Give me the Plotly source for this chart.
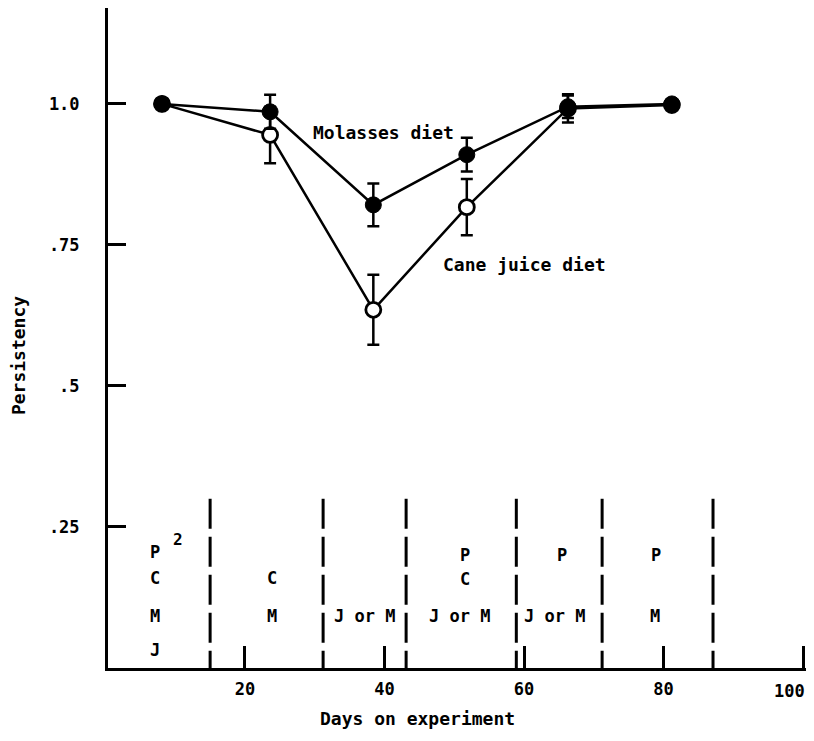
import plotly.graph_objects as go

# ---- data ----
days = [8.1, 23.6, 38.4, 51.8, 66.3, 81.2]
molasses = [1.0, 0.986, 0.821, 0.910, 0.995, 1.0]
molasses_err = [0, 0.030, 0.038, 0.030, 0.020, 0]
cane = [1.0, 0.945, 0.635, 0.817, 0.992, 0.998]
cane_err = [0, 0.050, 0.062, 0.050, 0.025, 0]

period_bounds = [15.0, 31.2, 43.1, 58.9, 71.2, 87.1]
bound_top = 0.30

label_text = ["P", "C", "M", "J", "C", "M", "J or M", "P", "C", "J or M",
              "P", "J or M", "P", "M"]
label_x = [7.1, 7.1, 7.1, 7.1, 23.9, 23.9, 37.2, 51.5, 51.5, 50.8,
           65.4, 64.4, 78.9, 78.8]
label_y = [0.206, 0.160, 0.092, 0.032, 0.160, 0.092, 0.092, 0.200, 0.158, 0.092,
           0.200, 0.092, 0.200, 0.092]
note_text = "2"
note_x, note_y = 10.4, 0.227

x_ticks = [20, 40, 60, 80, 100]
x_ticktext = ["20", "40", "60", "80", ""]
last_tick_text = "100"          # drawn a little left of its tick, as in the reference
last_tick_x = 98.0
y_ticks = [0.25, 0.5, 0.75, 1.0]
y_ticktext = [".25", ".5", ".75", "1.0"]

series_labels = ["Molasses diet", "Cane juice diet"]
series_label_x = [39.8, 60.1]
series_label_y = [0.950, 0.715]

FONT = "DejaVu Sans Mono"

fig = go.Figure()

# period boundary dashed lines
for b in period_bounds:
    fig.add_trace(go.Scatter(
        x=[b, b], y=[bound_top, 0], mode="lines",
        line=dict(color="black", width=3, dash="30px,8px"),
        hoverinfo="skip", showlegend=False))

fig.add_trace(go.Scatter(
    x=days, y=cane, mode="lines+markers", name="Cane juice diet",
    line=dict(color="black", width=2.5),
    marker=dict(size=15, color="white", line=dict(color="black", width=2.8)),
    error_y=dict(type="data", array=cane_err, visible=True,
                 color="black", thickness=2.5, width=6),
    showlegend=False))

fig.add_trace(go.Scatter(
    x=days, y=molasses, mode="lines+markers", name="Molasses diet",
    line=dict(color="black", width=2.5),
    marker=dict(size=16, color="black", line=dict(color="black", width=1)),
    error_y=dict(type="data", array=molasses_err, visible=True,
                 color="black", thickness=2.5, width=6),
    showlegend=False))

annotations = []
for t, x, y in zip(label_text, label_x, label_y):
    annotations.append(dict(x=x, y=y, xref="x", yref="y", text=t, showarrow=False,
                            font=dict(family=FONT, size=17, color="black", weight="bold")))
annotations.append(dict(x=note_x, y=note_y, xref="x", yref="y", text=note_text,
                        showarrow=False,
                        font=dict(family=FONT, size=16, color="black", weight="bold")))
for t, x, y in zip(series_labels, series_label_x, series_label_y):
    annotations.append(dict(x=x, y=y, xref="x", yref="y", text=t, showarrow=False,
                            font=dict(family=FONT, size=18, color="black", weight="bold")))

annotations.append(dict(x=last_tick_x, y=0, xref="x", yref="y",
                        xanchor="center", yanchor="top", yshift=-11,
                        text=last_tick_text, showarrow=False,
                        font=dict(family=FONT, size=17, color="black", weight="bold")))

annotations.append(dict(x=-0.129, y=0.474, xref="paper", yref="paper",
                        xanchor="center", yanchor="middle",
                        text="Persistency", textangle=-90, showarrow=False,
                        font=dict(family=FONT, size=18, color="black", weight="bold")))
annotations.append(dict(x=0.444, y=-0.077, xref="paper", yref="paper",
                        xanchor="center", yanchor="middle",
                        text="Days on experiment", showarrow=False,
                        font=dict(family=FONT, size=18, color="black", weight="bold")))

# page has an 8px body margin: size the figure so the plot lands where the reference has it
fig.update_layout(
    width=806, height=725,
    margin=dict(l=100, r=8, t=0, b=65),
    paper_bgcolor="white", plot_bgcolor="white",
    annotations=annotations,
    xaxis=dict(range=[0.36, 100.43], showline=True, linecolor="black", linewidth=3,
               ticks="inside", ticklen=22, tickwidth=2.5, tickcolor="black",
               tickvals=x_ticks, ticktext=x_ticktext, showgrid=False, zeroline=False,
               ticklabelstandoff=4,
               tickfont=dict(family=FONT, size=17, color="black", weight="bold")),
    yaxis=dict(range=[0, 1.17], showline=True, linecolor="black", linewidth=3,
               ticks="inside", ticklen=18, tickwidth=2.5, tickcolor="black",
               tickvals=y_ticks, ticktext=y_ticktext, showgrid=False, zeroline=False,
               ticklabelstandoff=22,
               tickfont=dict(family=FONT, size=17, color="black", weight="bold")),
)

fig.write_html("out.html")
